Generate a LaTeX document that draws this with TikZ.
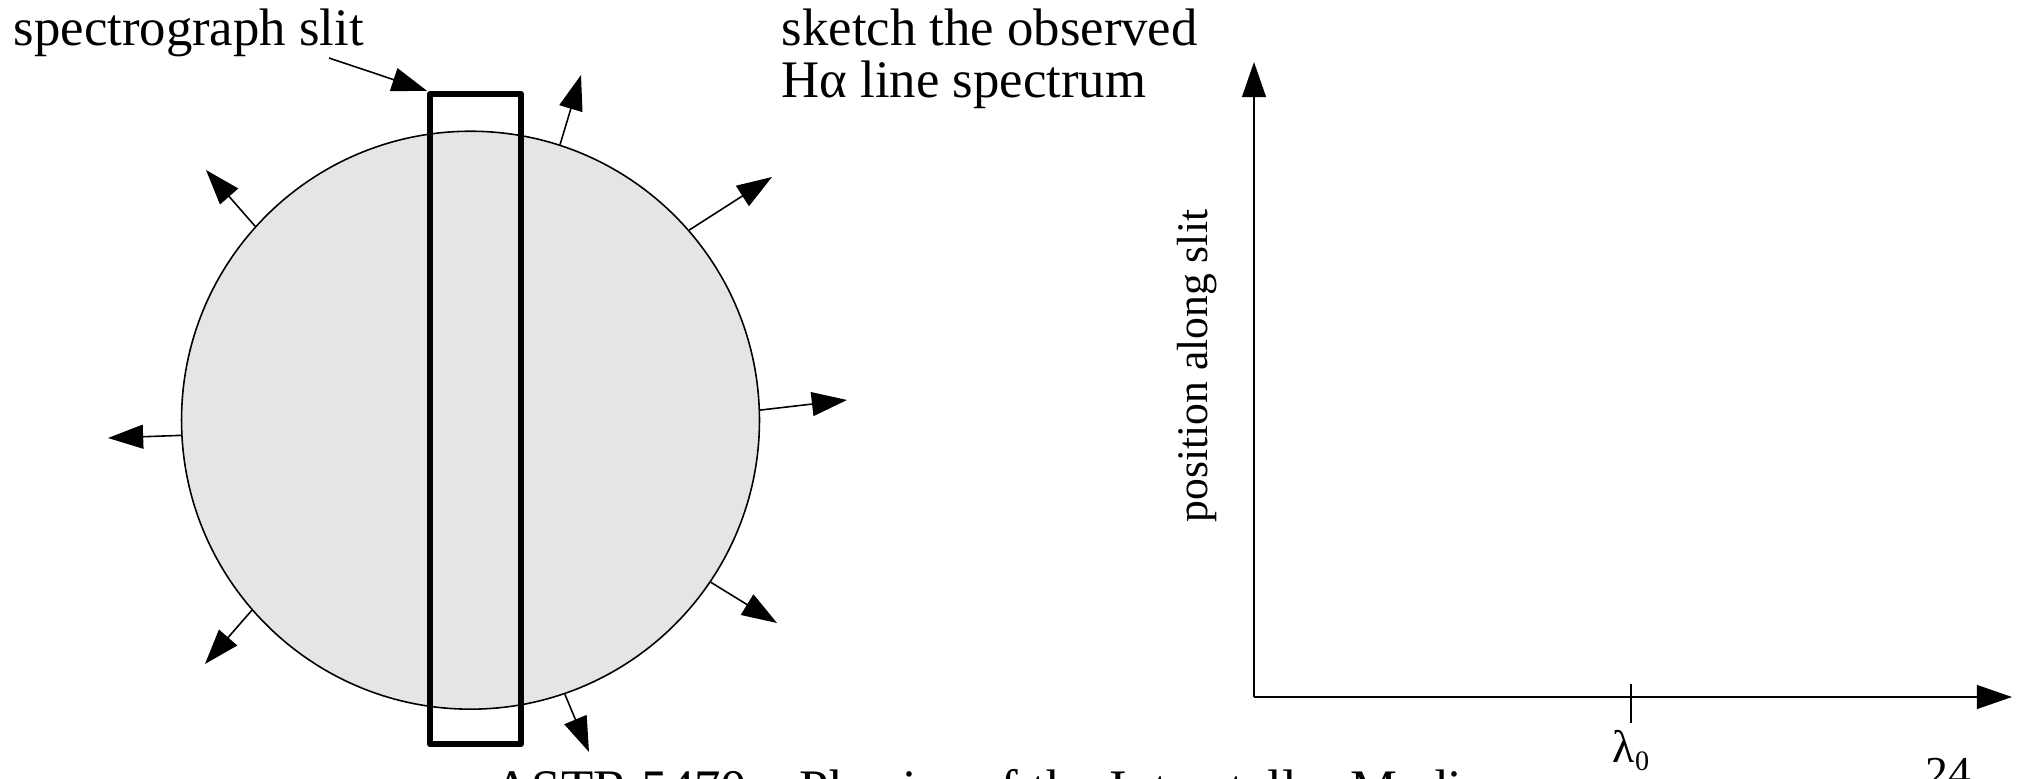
\documentclass[tikz,border=0pt]{standalone}
\usepackage{fontspec}
\setmainfont{Liberation Serif}
\usetikzlibrary{arrows.meta}
\usetikzlibrary{positioning}

\begin{document}
\begin{tikzpicture}[x=0.01cm,y=-0.01cm,>={Triangle[length=10pt,width=6.8pt]},
    big text/.style={font=\fontsize{15}{17}\selectfont,inner sep=0pt},
    small text/.style={font=\fontsize{12.4}{14}\selectfont,inner sep=0pt},
    vel arrow/.style={->,line width=0.45pt},
    star node/.style={circle,draw,line width=0.45pt,fill=black!10,minimum size=5.776cm,inner sep=0pt},
    slit node/.style={rectangle,draw,line width=1.7pt,line join=round,minimum width=0.91cm,minimum height=6.5cm,inner sep=0pt}]
  \useasboundingbox (0,0) rectangle (2021,779);

  % the star, with the slit laid across it
  \node[star node] (star) at (470.5,420.2) {};
  \node[slit node] (slit) at (475.5,419) {};

  % velocity arrows
  \coordinate (v1) at (581,75);
  \coordinate (v2) at (206,170);
  \coordinate (v3) at (772,177);
  \coordinate (v4) at (847,400);
  \coordinate (v5) at (108,438);
  \coordinate (v6) at (777,623);
  \coordinate (v7) at (205,664);
  \coordinate (v8) at (589,752);
  \foreach \a/\t in {72.3/v1,138.1/v2,41.2/v3,2.8/v4,183.6/v5,326.5/v6,221.4/v7,289.5/v8}
    \draw[vel arrow] (star.\a) -- (\t);

  \node[big text,anchor=base west] (slitlbl) at (13,46) {spectrograph slit};
  \coordinate (slittail) at (329,58);
  \draw[vel arrow] (slittail) -- (slit.north west);

  \node[big text,anchor=base west] (obs1) at (781,46) {sketch the observed};
  \node[big text,anchor=base west] (obs2) at (781,98) {Hα line spectrum};

  % empty axes for the spectrum
  \coordinate (origin) at (1254,697);
  \coordinate (ytip) at (1254,62);
  \coordinate (xtip) at (2012,697);
  \draw[vel arrow] (origin) -- (ytip);
  \draw[vel arrow] (origin) -- (xtip);
  \coordinate (ticktop) at (1631,684);
  \coordinate (tickbot) at (1631,723);
  \draw[line width=0.45pt] (ticktop) -- (tickbot);
  \node[font=\fontsize{13}{15}\selectfont,inner sep=0pt,anchor=base] (lam) at (1631,762) {λ\raisebox{-.4ex}{\fontsize{8}{8}\selectfont 0}};
  \node[small text,rotate=90] (ylbl) at (1197,366) {position along slit};

  % footer, cut by the page edge
  \node[big text,anchor=base west] (foot) at (493,806) {ASTR 5470 -- Physics of the Interstellar Medium};
  \node[font=\fontsize{13}{15}\selectfont,inner sep=0pt,anchor=base west] (pg) at (1925,788) {24};
\end{tikzpicture}
\end{document}
